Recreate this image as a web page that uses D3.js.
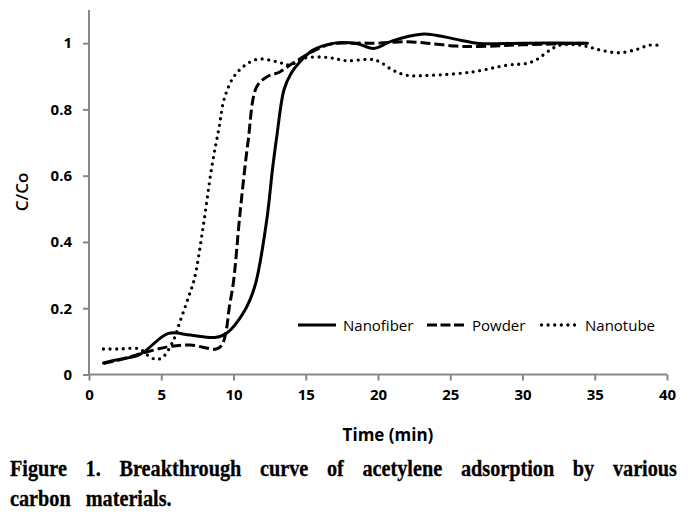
<!DOCTYPE html>
<html><head><meta charset="utf-8">
<script src="https://cdn.jsdelivr.net/npm/d3@7/dist/d3.min.js"></script>
<style>body{margin:0;background:#fff}svg{display:block}</style>
</head><body>
<svg id="c" width="697" height="517"></svg>
<script>
const nanofiberT = [1, 2, 3.5, 5.5, 7, 8.7, 9.5, 10.8, 11.5, 12.3, 12.7, 13, 13.5, 14, 14.6, 15.5, 17, 18.5, 19.7, 21, 23, 24, 25.7, 27, 30, 34.5];
const nanofiberV = [0.035, 0.045, 0.06, 0.124, 0.119, 0.112, 0.124, 0.195, 0.27, 0.466, 0.62, 0.72, 0.86, 0.91, 0.944, 0.979, 1.0, 0.999, 0.984, 1.007, 1.027, 1.024, 1.009, 0.999, 1.0, 1.0];
const powderT = [1, 2, 3.5, 5.5, 7, 8.8, 9.2, 9.5, 9.7, 10, 10.45, 11, 11.6, 12.3, 13.2, 14.1, 15.5, 16.7, 18.5, 20, 22, 23.6, 25.4, 27, 30, 34.5];
const powderV = [0.033, 0.043, 0.062, 0.084, 0.089, 0.077, 0.089, 0.134, 0.2, 0.28, 0.486, 0.7, 0.868, 0.898, 0.913, 0.939, 0.975, 0.997, 1.0, 1.0, 1.004, 0.999, 0.991, 0.99, 0.995, 1.0];
const nanotubeT = [1, 2, 3.5, 4, 4.6, 5.1, 5.8, 6.3, 6.9, 7.3, 7.9, 8.5, 9, 9.4, 10.2, 11.6, 13, 13.9, 14.8, 16.5, 17.8, 19.5, 20.1, 21, 22, 23.6, 26.5, 29, 30.3, 31, 31.9, 32.6, 34, 34.7, 35.6, 36.7, 37.9, 38.8, 39.7];
const nanotubeV = [0.077, 0.077, 0.077, 0.06, 0.046, 0.052, 0.099, 0.16, 0.235, 0.29, 0.446, 0.627, 0.745, 0.838, 0.909, 0.951, 0.944, 0.934, 0.954, 0.957, 0.947, 0.951, 0.944, 0.919, 0.903, 0.903, 0.913, 0.934, 0.939, 0.951, 0.979, 0.994, 0.994, 0.987, 0.977, 0.971, 0.981, 0.994, 0.992];
const seriesNames = ["Nanofiber", "Powder", "Nanotube"];
const xTicks = [0, 5, 10, 15, 20, 25, 30, 35, 40];
const yTicks = [0, 0.2, 0.4, 0.6, 0.8, 1];
const xTitle = "Time (min)";
const yTitle = "C/Co";
const captionLine1 = ["Figure", "1.", "Breakthrough", "curve", "of", "acetylene", "adsorption", "by", "various"];
const captionLine2 = ["carbon", "materials."];

const svg = d3.select("#c");
const x = d3.scaleLinear().domain([0, 40]).range([89, 667]);
const y = d3.scaleLinear().domain([0, 1.1]).range([374.5, 10]);
const axisColor = "#878787";
const tickFont = "'Open Sans', sans-serif";

// axes
const gx = svg.append("g").attr("transform", `translate(0,${y(0)})`)
  .call(d3.axisBottom(x).tickValues(xTicks).tickSize(6).tickPadding(6).tickFormat(d3.format("d")));
const gy = svg.append("g").attr("transform", `translate(${x(0)},0)`)
  .call(d3.axisLeft(y).tickValues(yTicks).tickSize(6).tickPadding(11).tickFormat(d => d === 0 ? "0" : d === 1 ? "1" : d3.format(".1f")(d)));
gy.select(".domain").attr("d", `M0,${y(1.1)}V${y(0)}`);
gx.select(".domain").attr("d", `M${x(0)},0H${x(40)}`);
[gx, gy].forEach(g => {
  g.selectAll(".domain, .tick line").attr("stroke", axisColor).attr("stroke-width", 2);
  g.selectAll(".tick text").attr("fill", "#000").attr("font-family", tickFont)
    .attr("font-weight", "bold").attr("font-size", 15);
});
gx.selectAll(".tick text").attr("dy", "0.9em");

// titles
svg.append("text").attr("x", 388).attr("y", 441).attr("text-anchor", "middle")
  .attr("font-family", tickFont).attr("font-weight", "bold").attr("font-size", 17).text(xTitle);
svg.append("text").attr("transform", "translate(28,192) rotate(-90)").attr("text-anchor", "middle")
  .attr("font-family", tickFont).attr("font-weight", 600).attr("font-size", 17).text(yTitle);

// lines
const styles = [
  {w: 3, dash: null, cap: "round"},
  {w: 3, dash: "10,4", cap: "butt"},
  {w: 3.3, dash: "0,6.6", cap: "round"}
];
const data = [
  nanofiberT.map((t, i) => [t, nanofiberV[i]]),
  powderT.map((t, i) => [t, powderV[i]]),
  nanotubeT.map((t, i) => [t, nanotubeV[i]])
];
const line = d3.line().x(d => x(d[0])).y(d => y(d[1])).curve(d3.curveCatmullRom.alpha(0.5));
[2, 1, 0].forEach(i => {
  svg.append("path").attr("d", line(data[i])).attr("fill", "none").attr("stroke", "#000")
    .attr("stroke-width", styles[i].w).attr("stroke-linecap", styles[i].cap)
    .attr("stroke-dasharray", styles[i].dash);
});

// legend
const legX = [298, 427, 540];
const legY = 325;
seriesNames.forEach((n, i) => {
  svg.append("line").attr("x1", legX[i] + (i === 2 ? 1.5 : 0)).attr("x2", legX[i] + 38).attr("y1", legY).attr("y2", legY)
    .attr("stroke", "#000").attr("stroke-width", styles[i].w).attr("stroke-linecap", i === 2 ? "round" : "butt")
    .attr("stroke-dasharray", i === 1 ? "10,3.5" : styles[i].dash);
  svg.append("text").attr("x", legX[i] + 45).attr("y", legY + 5.5).attr("font-family", tickFont)
    .attr("font-size", 15).text(n);
});

// caption
const capFont = "'Liberation Serif', 'Times New Roman', serif";
const sx = 0.88;
function captionLine(words, yBase, totalWidth, gapFixed) {
  const g = svg.append("g").attr("transform", `translate(10,${yBase}) scale(${sx},1)`);
  const ts = words.map(w => g.append("text").attr("font-family", capFont).attr("font-weight", "bold")
    .attr("font-size", 23).attr("stroke", "#000").attr("stroke-width", 0.3).text(w));
  const widths = ts.map(t => t.node().getComputedTextLength());
  const sum = d3.sum(widths);
  const gap = gapFixed != null ? gapFixed / sx : (totalWidth / sx - sum) / (words.length - 1);
  let cx = 0;
  ts.forEach((t, i) => { t.attr("x", cx); cx += widths[i] + gap; });
}
captionLine(captionLine1, 476, 667, null);
captionLine(captionLine2, 506, null, 15);
</script>
</body></html>
